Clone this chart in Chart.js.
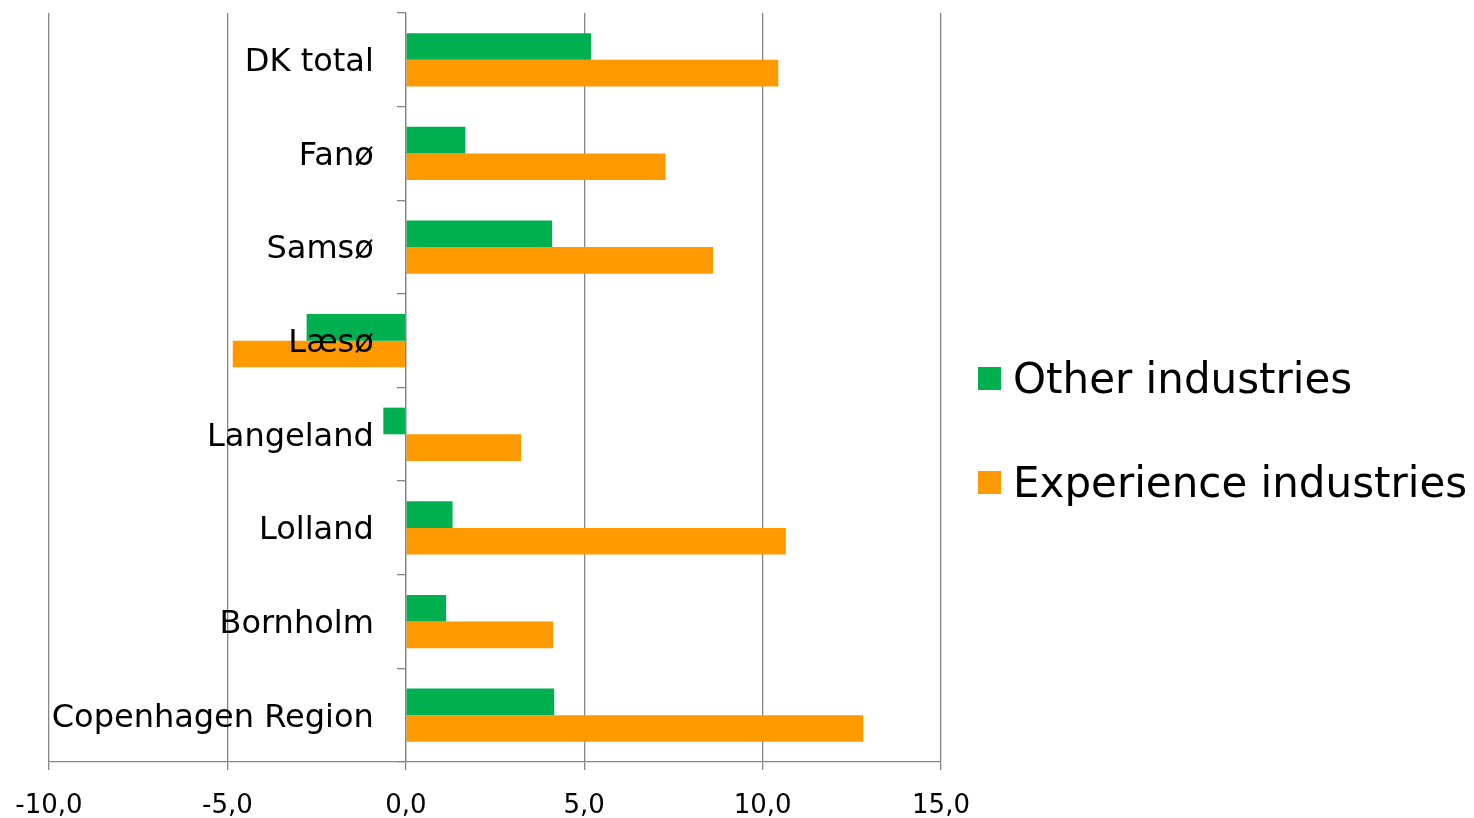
<!DOCTYPE html>
<html>
<head>
<meta charset="utf-8">
<title>Employment growth, experience vs other industries</title>
<script src="https://cdn.jsdelivr.net/npm/chart.js@4.4.1/dist/chart.umd.min.js"></script>
<style>
  html, body { margin: 0; padding: 0; background: #fff; }
  #wrap { position: relative; width: 1474px; height: 818px; }
  #legend {
    position: absolute; left: 978px; top: 354px;
    font-family: 'DejaVu Sans', Verdana, sans-serif; font-size: 42px; color: #000;
  }
  .item { display: flex; align-items: center; height: 48px; margin-bottom: 56px; white-space: nowrap; }
  .swatch { width: 23px; height: 23px; margin-right: 12px; flex: none; }
</style>
</head>
<body>
<div id="wrap">
  <canvas id="growthChart" width="1474" height="818"></canvas>
  <div id="legend"></div>
</div>
<script>
const regions = ['DK total', 'Fanø', 'Samsø', 'Læsø', 'Langeland', 'Lolland', 'Bornholm', 'Copenhagen Region'];
const otherIndustries = [5.19, 1.67, 4.10, -2.78, -0.63, 1.31, 1.13, 4.16];
const experienceIndustries = [10.44, 7.28, 8.61, -4.85, 3.23, 10.65, 4.13, 12.82];
const xTicks = [-10, -5, 0, 5, 10, 15];

const gridColor = '#868686';
Chart.defaults.font.family = "'DejaVu Sans', Verdana, sans-serif";
Chart.defaults.color = '#000';

const ctx = document.getElementById('growthChart').getContext('2d');

const growthChart = new Chart(ctx, {
    type: 'bar',
    data: {
        labels: regions,
        datasets: [
            { label: 'Other industries', data: otherIndustries, backgroundColor: '#00B050' },
            { label: 'Experience industries', data: experienceIndustries, backgroundColor: '#FF9900' }
        ]
    },
    options: {
        indexAxis: 'y',
        responsive: false,
        animation: false,
        devicePixelRatio: 1,
        categoryPercentage: 0.57,
        barPercentage: 1,
        layout: { padding: { left: 49, top: 13, right: 533, bottom: 0 } },
        plugins: {
            legend: { display: false },
            tooltip: { enabled: false }
        },
        scales: {
            x: {
                min: xTicks[0],
                max: xTicks[xTicks.length - 1],
                afterBuildTicks: axis => { axis.ticks = xTicks.map(v => ({ value: v })); },
                grid: { color: gridColor, lineWidth: 1.3, tickLength: 8 },
                border: { color: gridColor, width: 1.3 },
                ticks: {
                    font: { size: 26, lineHeight: 0.9 },
                    padding: 25,
                    callback: v => v.toFixed(1).replace('.', ',')
                },
                // fixed axis band; the layout padding controls the plot edges
                afterFit: scale => { scale.paddingLeft = 0; scale.paddingRight = 0; scale.height = 56; }
            },
            y: {
                // category labels sit next to the zero line, drawn over the bars;
                // the em space keeps them clear of the tick marks
                position: { x: 0 },
                grid: { drawOnChartArea: false, offset: true, tickLength: 8, color: gridColor, lineWidth: 1.3 },
                border: { color: gridColor, width: 1.3, z: 1 },
                ticks: {
                    font: { size: 32 },
                    z: 1,
                    labelOffset: 3,
                    callback: function (v) { return this.getLabelForValue(v) + '\u2003'; }
                },
                afterFit: scale => { scale.paddingTop = 0; scale.paddingBottom = 0; }
            }
        }
    }
});

// legend on the right, built from the datasets
const legendEl = document.getElementById('legend');
growthChart.data.datasets.forEach(ds => {
    const item = document.createElement('div');
    item.className = 'item';
    item.innerHTML = `<span class="swatch" style="background:${ds.backgroundColor}"></span><span>${ds.label}</span>`;
    legendEl.appendChild(item);
});
</script>
</body>
</html>
